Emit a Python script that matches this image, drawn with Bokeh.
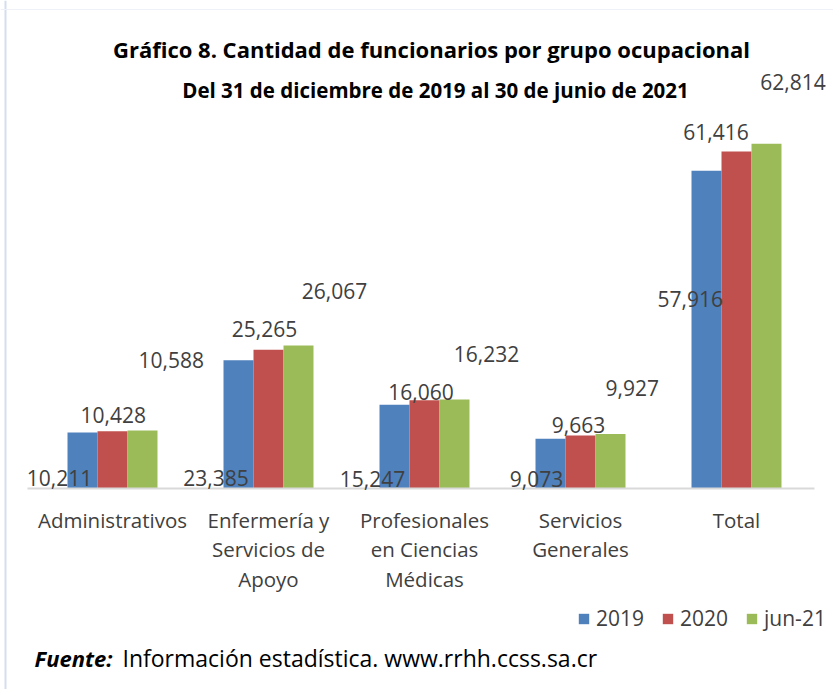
from bokeh.plotting import figure
from bokeh.models import (ColumnDataSource, Range1d, FixedTicker, Label, LabelSet,
                          Legend, LegendItem, Span)
from bokeh.core.properties import value
from bokeh.transform import dodge
from bokeh.embed import file_html
from bokeh.resources import INLINE

# ---------------- data ----------------
categories = ["Administrativos", "Enfermería y Servicios de Apoyo",
              "Profesionales en Ciencias Médicas", "Servicios Generales", "Total"]
tick_labels = ["Administrativos", "Enfermería y\nServicios de\nApoyo",
               "Profesionales\nen Ciencias\nMédicas", "Servicios\nGenerales", "Total"]
series = ["2019", "2020", "jun-21"]
v2019 = [10211, 23385, 15247, 9073, 57916]
v2020 = [10428, 25265, 16060, 9663, 61416]
v2021 = [10588, 26067, 16232, 9927, 62814]
colors = ["#4f81bd", "#c0504d", "#9bbb59"]

# label placement tweaks (pixels, relative to top-centre of each bar; up positive)
lbl_dx = {"2019": [-23, -22.5, -22, -14, -16.3],
          "2020": [0.8, -4, -3.5, -2, -20.5],
          "jun-21": [28.7, 36, 32, 21.7, 26.5]}
lbl_dy = {"2019": [-54, -126.3, -81.7, -47.8, -136.5],
          "2020": [8.1, 13.3, 0.6, 2.7, 11.7],
          "jun-21": [62.6, 46.6, 37.9, 38.5, 53.3]}

# ---------------- layout ----------------
W, H = 833, 689
cat_px = 156.0                  # pixels per category
first_center = 112.0            # x pixel of first category centre
baseline_px = 488.0             # y pixel of value 0 (from top)
px_per_unit = 0.005488
x0 = -first_center / cat_px
x1 = x0 + W / cat_px
y0 = -(H - baseline_px) / px_per_unit
y1 = baseline_px / px_per_unit
bw = 30.0 / cat_px
FONT = "Open Sans"

p = figure(width=W, height=H, output_backend="svg", toolbar_location=None,
           x_range=Range1d(x0, x1), y_range=Range1d(y0, y1),
           y_axis_location=None, min_border=0)
p.outline_line_color = None
p.xgrid.visible = False
p.ygrid.visible = False
p.background_fill_color = "white"
p.border_fill_color = "white"

# faint page borders
p.add_layout(Span(location=5, dimension="height", location_units="screen",
                  line_color="#d3deef", line_width=2))
p.add_layout(Span(location=H - 9, dimension="width", location_units="screen",
                  line_color="#eef1f8", line_width=1))

idx = list(range(len(categories)))
src = ColumnDataSource(dict(idx=idx, v2019=v2019, v2020=v2020, v2021=v2021))

vals = {"2019": v2019, "2020": v2020, "jun-21": v2021}
cols = {"2019": "v2019", "2020": "v2020", "jun-21": "v2021"}
shifts = {"2019": -bw, "2020": 0.0, "jun-21": bw}

renderers = []
for s, c in zip(series, colors):
    r = p.vbar(x=dodge("idx", shifts[s], range=p.x_range), top=cols[s], width=bw,
               source=src, fill_color=c, line_color=None)
    renderers.append(r)
    lsrc = ColumnDataSource(dict(
        x=[i + shifts[s] for i in idx], y=vals[s],
        text=[f"{v:,}" for v in vals[s]],
        dx=lbl_dx[s], dy=lbl_dy[s]))
    p.add_layout(LabelSet(x="x", y="y", text="text", source=lsrc,
                          x_offset="dx", y_offset="dy",
                          text_align="center", text_baseline="alphabetic",
                          text_font=value(FONT), text_font_size="21px",
                          text_color="#404040"))

# x axis drawn at value 0
ax = p.xaxis[0]
ax.fixed_location = 0
ax.ticker = FixedTicker(ticks=idx)
ax.major_label_overrides = {i: t for i, t in zip(idx, tick_labels)}
ax.bounds = (x0 + 27 / cat_px, x0 + 814 / cat_px)
ax.axis_line_color = "#d9d9d9"
ax.axis_line_width = 2
ax.major_tick_line_color = None
ax.minor_tick_line_color = None
ax.major_tick_out = 0
ax.major_tick_in = 0
ax.major_label_standoff = 17
ax.major_label_text_font = FONT
ax.major_label_text_font_size = "20.5px"
ax.major_label_text_color = "#404040"
ax.major_label_text_line_height = 1.07

# legend
legend = Legend(items=[LegendItem(label=s, renderers=[r]) for s, r in zip(series, renderers)],
                orientation="horizontal", location=(577, 57),
                glyph_width=13, glyph_height=13, label_standoff=6, spacing=17,
                padding=0, margin=0, border_line_color=None, background_fill_alpha=0,
                label_text_font=FONT, label_text_font_size="21px",
                label_text_color="#404040")
p.add_layout(legend, "center")

# titles
for txt, xx, yy, fs in [("Gráfico 8. Cantidad de funcionarios por grupo ocupacional", 431, H - 48, "22px"),
                        ("Del 31 de diciembre de 2019 al 30 de junio de 2021", 435, H - 89, "20.5px")]:
    p.add_layout(Label(x=xx, y=yy, x_units="screen", y_units="screen", text=txt,
                       text_align="center", text_baseline="alphabetic",
                       text_font=FONT, text_font_style="bold",
                       text_font_size=fs, text_color="black"))

# source note
p.add_layout(Label(x=34, y=H - 657, x_units="screen", y_units="screen", text="Fuente:",
                   text_align="left", text_baseline="alphabetic", text_font=FONT,
                   text_font_style="bold italic", text_font_size="22px", text_color="black"))
p.add_layout(Label(x=122, y=H - 657, x_units="screen", y_units="screen",
                   text="Información estadística. www.rrhh.ccss.sa.cr",
                   text_align="left", text_baseline="alphabetic", text_font=FONT,
                   text_font_size="23px", text_color="black"))

open("out.html", "w").write(file_html(p, INLINE))
